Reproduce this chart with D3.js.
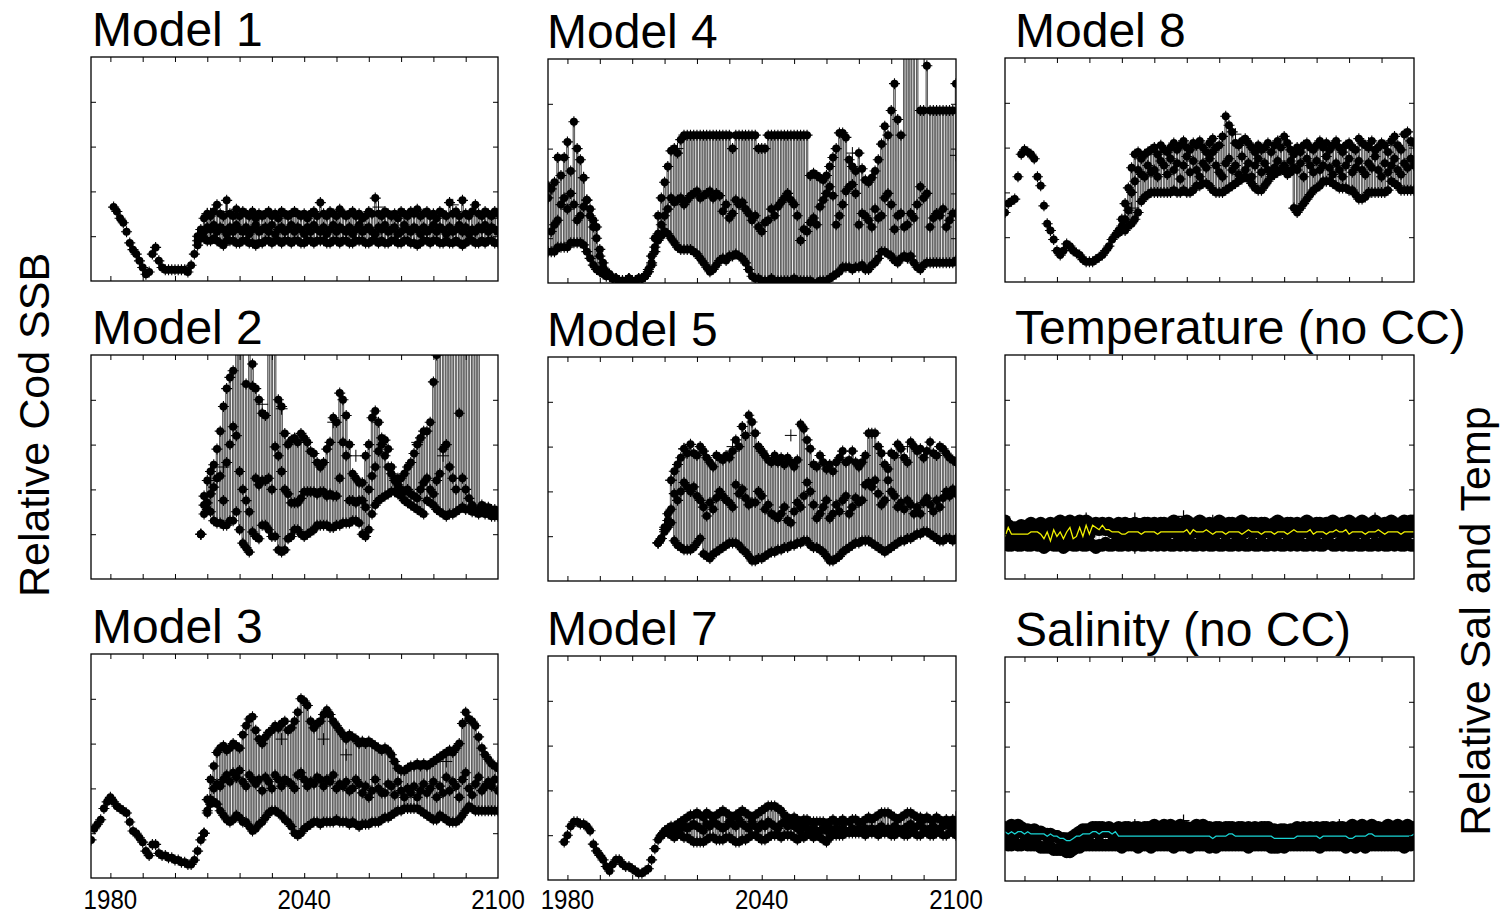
<!DOCTYPE html>
<html>
<head>
<meta charset="utf-8">
<script src="https://cdn.jsdelivr.net/npm/d3@7"></script>
<style>
  body { margin: 0; background: #fff; }
  text { font-family: "Liberation Sans", Arial, Helvetica, sans-serif; fill: #000; }
</style>
</head>
<body>
<script>
// ---- data (relative units, 0-100 panel scale) ----
var xTickYears = [1980, 1990, 2000, 2010, 2020, 2030, 2040, 2050, 2060, 2070, 2080, 2090];
var xLabelYears = [1980, 2040, 2100];
var yTickVals = [20, 40, 60, 80];

// Model 1
var m1Hist = [33,31,28,26,22,17,14,12,9,6,3,4,12,15,9,6,5,5,5,5,5,5,5,4,7,12];
var m1Lo = [16,19,19,18,18,19,18,17,16,18, 18,18,17,17,18,18,17,17,16,17, 17,18,18,17,18,18,17,18,18,17,
  18,18,17,17,18,18,17,18,18,18, 17,17,18,18,17,18,18,17,17,18, 18,18,17,17,18,18,17,18,17,17,
  18,18,17,17,18,18,17,17,16,17, 18,18,17,18,18,17,17,18,17,17, 18,17,16,17,18,18,17,17,18,17, 18,18,17,17];
var m1Mid = [18,21,22,24,23,25,22,24,23,21, 24,22,25,23,22,24,21,23,25,22, 23,24,22,25,21,23,24,22,23,25,
  22,24,23,21,24,22,25,23,22,24, 21,23,25,22,24,23,22,24,21,23, 25,22,23,24,22,21,24,23,25,22,
  23,24,21,22,25,23,22,24,23,21, 24,22,23,25,22,24,23,21,24,22, 23,25,22,24,21,23,22,24,23,25, 22,24,23,22];
var m1Hi = [20,23,28,30,29,31,34,30,29,36, 30,29,32,29,31,30,29,31,28,30, 29,30,31,29,30,28,31,30,29,30,
  31,30,29,30,28,30,31,29,35,30, 29,31,30,29,32,30,29,30,31,29, 30,28,29,31,30,37,30,29,31,30,
  29,30,28,31,30,29,31,30,32,29, 30,31,29,30,28,31,30,29,35,30, 31,29,36,30,29,31,34,30,29,31, 30,29,31,30];
var m1Plus = [[2010,30],[2011,30],[2016,31],[2063,33],[2086,34],[2100,28]];

// Model 4
var m4Lo = [14,14,14,16,16,16,16,18,18,18, 18,17,14,11,8,6,5,4,3,3, 2,2,1,1,1,2,1,1,2,2, 3,5,8,14,19,21,23,22,20,18,
  16,15,15,15,15,14,13,11,9,7, 5,6,8,10,11,10,12,12,13,12, 11,9,6,3,2,2,1,1,1,2, 1,1,1,1,1,1,2,1,1,1,
  1,1,0,0,1,1,1,2,3,4, 5,7,7,7,6,7,7,8,6,6, 8,9,11,14,14,13,12,10,9,11, 12,11,12,9,7,6,8,9,9,9, 9,9,9,9,9,9,10];
var m4Mid = [38,23,26,28,35,38,33,40,35,28, 30,34,37,30,25,20,12,7,4,3, 2,2,1,1,1,2,1,1,2,2, 3,5,9,16,22,26,30,33,38,36,
  37,38,35,37,39,40,41,38,39,40, 41,38,40,39,32,35,29,31,37,35, 36,33,31,28,30,25,23,27,28,33, 30,34,36,38,40,37,35,30,19,24,
  23,27,29,26,34,37,40,43,39,26, 30,35,41,43,44,40,26,31,30,28, 25,33,29,30,38,40,35,24,30,31, 25,26,31,29,35,43,38,40,25,29, 31,30,33,25,28,31,31];
var m4Hi = [43,42,45,56,48,56,63,50,72,60, 55,47,37,33,28,25,15,9,5,4, 2,2,1,1,1,2,1,1,2,2, 3,6,12,20,30,38,45,52,59,60,
  58,64,66,66,66,66,66,66,66,66, 66,66,66,66,66,66,66,60,66,66, 66,66,66,66,66,60,60,60,66,66, 66,66,66,66,66,66,66,66,66,66,
  66,48,49,48,47,46,48,52,56,60, 67,67,65,55,52,50,58,51,46,45, 47,50,55,62,70,66,77,89,73,66, 140,140,140,140,140,77,77,97,77,77, 77,77,77,77,77,77,89];
var m4Plus = [[1974,43],[1985,47],[2014,60],[2068,58],[2100,57]];

// Model 8
var m8Hist = [31,35,36,37,47,57,59,58,57,55, 47,43,34,26,23,19,14,12,14,17, 16,14,13,12,10,9,9,9,10,11, 12,14,16,19,21];
var m8Lo = [22,23,23,25,26,28,31,36,38,39, 40,40,40,40,40,40,40,41,40,40, 41,40,40,41,43,43,44,44,43,41,
  40,40,40,41,42,43,44,45,46,47, 46,44,42,41,41,43,45,47,48,49, 50,50,50,49,33,31,33,35,37,39,
  41,42,43,45,45,45,44,43,42,42, 42,41,41,39,37,37,38,40,40,40, 40,40,40,41,45,44,43,41,41,41, 41,41];
var m8Mid = [22,25,28,32,40,45,50,48,47,52, 49,50,47,54,52,48,55,50,53,46, 52,56,49,54,50,47,53,51,55,58,
  52,49,47,53,55,50,52,48,56,50, 53,47,52,55,49,53,50,48,51,54, 50,52,48,54,51,50,53,47,55,52,
  49,54,50,52,56,51,48,53,50,47, 52,55,49,51,54,50,48,53,51,56, 50,47,53,49,52,55,50,48,53,51, 55,52];
var m8Hi = [23,28,35,42,51,57,58,55,57,58, 59,60,57,61,59,58,60,62,59,61, 63,60,59,62,61,63,60,58,62,64,
  60,61,65,74,70,67,62,61,63,64, 62,60,58,61,59,60,62,58,61,63, 60,65,62,59,57,60,58,61,62,60,
  59,61,63,60,62,59,61,63,60,58, 61,62,60,59,64,62,61,60,63,59, 60,62,61,58,63,65,61,59,66,67, 63,62];
var m8Plus = [[2013,33],[2022,58],[2045,66],[2086,62],[2100,61]];

// Model 2
var m2Lo = [20,29,31,30,26,25,25,24,24,26, 26,30,22,16,14,12,21,19,18,24, 24,22,19,19,13,12,13,18,19,22,
  22,20,19,20,21,22,24,24,24,24, 23,23,24,24,25,25,25,26,26,25, 20,19,22,29,33,35,36,37,38,39,
  39,38,37,35,34,33,32,31,30,29, 35,34,33,31,30,29,28,29,29,30, 31,32,31,31,30,30,29,30,29,29, 28,28,28];
var m2Mid = [20,33,34,38,41,45,46,35,52,60, 68,64,48,40,35,30,86,45,42,44, 44,45,40,59,55,48,40,38,34,34,
  34,36,39,39,39,39,38,39,39,37, 38,37,37,45,61,55,35,35,34,35, 35,32,40,46,50,57,60,62,58,50,
  44,42,40,39,40,38,37,36,40,43, 45,40,38,44,47,58,60,50,45,40, 74,45,40,36,33,30,31,31,30,30, 29,29,29];
var m2Hi = [20,37,44,48,51,58,66,77,85,90, 93,120,120,120,87,110,96,85,80,74, 73,120,120,110,80,77,65,60,62,63,
  61,65,63,61,57,56,52,50,52,58, 61,72,70,83,80,73,60,47,45,43, 43,55,60,72,75,70,63,55,50,47,
  45,45,45,47,50,52,56,60,63,66, 66,70,88,100,120,120,120,120,120,120, 120,120,120,120,120,120,120,33,32,32, 31,31,30];
var m2Plus = [[2011,44],[2015,50],[2027,78],[2033,76],[2049,70],[2056,55],[2075,61],[2083,55]];

// Model 5
var m5Lo = [17,19,22,24,26,18,16,15,14,14, 14,15,17,19,12,11,10,12,13,14, 15,16,17,17,17,16,14,13,11,9,
  9,10,10,11,12,13,13,14,14,15, 15,16,16,17,17,18,18,16,15,15, 14,13,11,9,9,10,11,13,14,15,
  16,17,17,18,18,18,17,16,15,14, 13,14,15,16,17,18,18,19,19,20, 21,21,22,22,21,20,19,18,18,19, 19,18,19];
var m5Mid = [17,19,23,27,32,39,36,40,44,42, 40,42,38,36,33,29,35,32,37,40, 38,36,35,33,43,39,41,37,34,35,
  35,40,38,32,34,30,29,28,30,33, 27,26,31,35,33,38,44,40,34,28, 30,33,36,28,30,34,31,36,38,30,
  33,37,35,36,43,44,42,45,39,34, 36,45,40,38,33,35,32,36,34,30, 33,30,35,37,34,31,36,33,37,40, 38,41,39];
var m5Hi = [17,19,24,30,45,49,52,55,59,57, 61,57,56,60,58,55,53,51,56,55, 54,56,55,58,63,60,69,65,74,71,
  66,60,58,56,54,53,56,53,55,52, 55,53,51,54,70,68,63,59,52,51, 56,53,50,52,49,53,55,58,53,54,
  58,53,51,53,56,66,66,66,60,57, 52,50,57,56,61,59,55,53,62,60, 58,59,55,58,62,57,56,60,59,57, 55,54,53];
var m5Plus = [[2012,45],[2016,59],[2031,60],[2040,58],[2049,65],[2085,60]];

// Model 3
var m3Hist = [17,22,24,26,31,34,36,34,32,31, 30,29,25,21,20,18,16,12,10,15, 15,11,10,10,9,9,8,8,7,7, 6,6,8,12,17];
var m3Lo = [20,29,33,34,33,30,28,26,25,26, 28,27,25,25,23,21,22,24,25,27, 29,30,30,29,28,26,25,23,20,19,
  20,22,23,24,25,25,24,25,25,25, 25,26,25,25,25,24,25,24,23,24, 24,24,25,25,25,26,27,27,28,29,
  30,30,31,31,31,31,31,30,29,28, 27,26,26,28,27,26,25,25,25,26, 28,30,32,31,30,30,30,30,30,30, 30,30];
var m3Mid = [20,30,35,40,42,41,44,46,43,47, 45,48,43,41,46,44,42,44,39,45, 43,40,46,44,41,44,43,42,40,46,
  47,44,41,43,42,45,44,41,44,43, 46,40,42,41,43,39,40,44,42,38, 41,36,39,44,40,38,38,42,41,37,
  43,39,36,40,38,41,36,39,42,38, 40,43,36,41,38,45,39,43,41,36, 44,47,40,37,42,45,39,41,43,41, 44,39];
var m3Hi = [20,35,44,50,56,58,59,57,58,60, 59,58,64,68,71,72,66,62,60,63, 65,66,68,67,69,70,66,67,70,74,
  80,79,77,70,67,69,70,73,75,73, 70,68,66,64,62,64,63,62,60,61, 60,61,60,59,58,57,58,57,55,52,
  49,48,48,49,50,50,51,50,51,50, 51,52,53,54,55,56,57,56,58,60, 69,74,71,70,68,63,58,55,53,51, 50,49];
var m3Plus = [[2019,45],[2033,62],[2046,62],[2053,55],[2084,52],[2100,50]];

// Model 7
var m7Hist = [17,20,24,26,26,25,25,24,22,16, 13,11,9,6,4,7,9,9,7,6, 6,5,4,3,3,4,5,9,14,18];
var m7Lo = [20,21,21,20,19,20,20,19,19,18, 17,17,17,17,18,19,19,18,18,18, 19,19,18,17,17,18,18,19,20,20,
  19,18,18,19,20,20,20,19,20,20, 20,19,18,19,19,20,20,19,20,19, 18,17,19,20,20,20,20,21,21,21,
  21,21,21,20,21,21,21,20,21,21, 21,20,20,21,21,20,20,21,21,20, 20,21,21,20,20,21,21,20,20,21, 21,20];
var m7Mid = [20,21,22,22,23,22,23,24,23,24, 25,24,23,22,25,24,26,25,24,23, 24,26,25,24,27,25,24,23,26,24,
  23,25,24,26,25,24,23,25,26,24, 25,24,23,22,24,23,22,23,22,22, 23,22,23,22,23,22,23,22,22,23,
  22,23,22,23,22,23,22,23,24,22, 23,22,24,23,22,23,24,25,23,24, 25,23,22,23,24,22,23,24,25,24, 23,22];
var m7Hi = [20,22,23,24,24,25,26,27,28,29, 29,30,29,28,30,29,28,29,30,31, 30,29,28,29,30,31,30,29,28,29,
  30,31,32,33,33,33,32,31,29,28, 27,28,27,26,27,27,26,26,26,26, 26,25,26,27,26,26,27,26,26,27,
  27,26,26,27,28,27,28,29,30,30, 30,29,28,27,28,29,30,30,29,28, 28,27,28,27,27,28,27,26,27,26, 27,26];
var m7Plus = [[2100,28]];

// Temperature (no CC), 1974-2100
var tempLine = [19,23,20,20,20,20,20,20,21,21, 21,20,18,21,17,22,19,21,18,21, 23,18,19,23,19,24,20,24,23,22,
  24,22,22,21,21,21,20,20,21,21, 21,21,20,21,21,21,21,20,21,21, 21,21,21,21,21,21,22,20,22,21,
  21,21,22,21,20,21,21,21,20,21, 21,21,21,20,21,22,21,21,21,20, 21,21,21,20,21,21,21,20,21,22,
  21,21,21,21,22,20,21,21,21,20, 21,21,22,21,21,22,20,21,21,21, 21,20,21,21,21,22,21,20,21,21, 21,21,20,21,21,21,21];
var tempHi = [26,24,23,23,23,24,23,24,25,23, 24,25,24,23,25,24,25,26,24,25, 26,24,25,26,24,26,25,24,25,24,
  25,24,25,24,24,25,24,25,24,24, 25,24,24,25,25,24,25,24,25,25, 24,25,26,25,24,25,26,25,24,25,
  26,25,24,25,24,25,26,25,24,25, 25,24,25,26,25,24,25,25,24,25, 25,24,24,25,26,25,24,25,25,24,
  25,24,25,26,25,24,25,25,24,25, 25,26,25,24,25,24,26,25,24,25, 26,25,24,25,26,25,24,25,25,26, 25,24,25,26,25,26,26];
var tempLo = [16,15,15,16,15,15,16,15,15,16, 15,15,14,15,16,15,15,16,14,15, 16,15,15,16,15,15,16,15,14,15,
  15,16,15,15,16,15,15,16,15,16, 15,16,15,15,16,15,16,15,16,15, 16,15,15,16,15,16,15,16,15,15,
  16,15,16,15,15,16,15,15,16,15, 15,16,15,16,15,15,16,15,15,16, 15,15,16,15,16,15,15,16,15,16,
  15,16,15,15,16,15,16,15,15,16, 16,15,15,16,15,16,15,15,16,15, 15,16,15,15,16,15,16,15,15,16, 15,16,15,15,16,15,15];
var tempPlus = [[1999,27],[2014,27],[2014,14],[2029,28],[2038,26],[2088,27],[2100,25]];

// Salinity (no CC), 1974-2100
var salLine = [22,21,22,21,22,22,21,22,21,21, 21,21,21,20,21,20,20,19,19,18, 18,19,20,20,21,21,21,22,22,21,
  22,22,22,21,22,20,20,20,20,20, 20,20,20,20,20,20,20,20,20,20, 20,20,20,20,20,20,20,20,20,20,
  20,20,20,20,19,20,20,20,20,21, 21,20,20,20,20,20,20,20,20,20, 20,20,20,19,19,19,19,19,19,19,
  20,20,20,20,20,20,20,19,20,20, 20,20,20,20,20,20,19,19,20,20, 20,20,21,21,20,20,20,20,20,20, 20,20,20,20,20,20,21];
var salHi = [24,23,25,24,25,24,23,23,22,23, 22,22,21,21,20,20,20,19,19,19, 19,20,21,22,23,23,23,24,24,24,
  24,23,24,23,23,24,23,24,24,23, 24,24,23,24,24,24,25,24,24,25, 24,25,24,24,25,24,24,23,24,25,
  24,25,24,24,23,24,24,23,24,24, 24,23,24,24,23,24,23,24,23,24, 24,24,23,23,22,23,23,22,23,23,
  24,23,24,23,24,23,24,23,24,24, 23,24,23,24,24,23,24,25,24,24, 25,24,24,25,24,24,23,24,25,24, 24,25,24,24,25,24,24];
var salLo = [17,16,16,17,16,16,17,16,16,16, 16,15,15,15,15,14,14,14,14,13, 13,14,15,15,16,16,16,16,16,16,
  16,16,16,16,16,16,15,16,16,16, 16,15,16,16,16,15,16,16,16,16, 16,16,15,16,16,16,16,15,16,16,
  16,16,16,15,16,15,16,16,16,16, 16,16,16,16,16,15,16,16,16,16, 16,16,15,15,15,16,15,16,16,16,
  16,16,16,16,16,16,16,15,16,16, 16,16,16,16,16,15,16,16,15,16, 16,15,16,16,16,16,16,16,16,16, 16,16,16,15,16,16,17];
var salPlus = [[2014,25],[2029,27],[2077,25],[2084,25]];

// ---- layout ----
var W = 1507, H = 914;
var colX = [[91, 498], [548, 956], [1005, 1414]];
var rowTop = [[57, 355, 654], [59, 357, 656], [58, 355, 657]];
var panelH = 224;
var titleX = [92, 547, 1015];
var xDomain = [1974, 2100];
var yDomain = [0, 100];

var panels = [
  {id: "m1", title: "Model 1", col: 0, row: 0, histStart: 1981, hist: m1Hist, projStart: 2007, lo: m1Lo, mid: m1Mid, hi: m1Hi, plus: m1Plus},
  {id: "m2", title: "Model 2", col: 0, row: 1, histStart: 2008, hist: [], projStart: 2008, lo: m2Lo, mid: m2Mid, hi: m2Hi, plus: m2Plus},
  {id: "m3", title: "Model 3", col: 0, row: 2, histStart: 1974, hist: m3Hist, projStart: 2009, lo: m3Lo, mid: m3Mid, hi: m3Hi, plus: m3Plus},
  {id: "m4", title: "Model 4", col: 1, row: 0, histStart: 1974, hist: [], projStart: 1974, lo: m4Lo, mid: m4Mid, hi: m4Hi, plus: m4Plus},
  {id: "m5", title: "Model 5", col: 1, row: 1, histStart: 2008, hist: [], projStart: 2008, lo: m5Lo, mid: m5Mid, hi: m5Hi, plus: m5Plus},
  {id: "m7", title: "Model 7", col: 1, row: 2, histStart: 1979, hist: m7Hist, projStart: 2009, lo: m7Lo, mid: m7Mid, hi: m7Hi, plus: m7Plus},
  {id: "m8", title: "Model 8", col: 2, row: 0, histStart: 1974, hist: m8Hist, projStart: 2009, lo: m8Lo, mid: m8Mid, hi: m8Hi, plus: m8Plus},
  {id: "tp", title: "Temperature (no CC)", col: 2, row: 1, env: true, start: 1974, line: tempLine, lo: tempLo, hi: tempHi, plus: tempPlus, color: "#f2f200"},
  {id: "sl", title: "Salinity (no CC)", col: 2, row: 2, env: true, start: 1974, line: salLine, lo: salLo, hi: salHi, plus: salPlus, color: "#19d3d3"}
];

var svg = d3.select("body").append("svg")
    .attr("width", W)
    .attr("height", H);

var defs = svg.append("defs");
var crossPath = "M-5.5,0H5.5M0,-5.5V5.5";
var plusPath = "M-6,0H6M0,-6V6";

function drawPanel(p) {
    var x0 = colX[p.col][0], x1 = colX[p.col][1];
    var y0 = rowTop[p.col][p.row], y1 = y0 + panelH;
    var x = d3.scaleLinear().domain(xDomain).range([x0, x1]);
    var y = d3.scaleLinear().domain(yDomain).range([y1, y0]);

    defs.append("clipPath").attr("id", "clip-" + p.id)
        .append("rect").attr("x", x0).attr("y", y0).attr("width", x1 - x0).attr("height", y1 - y0);

    var g = svg.append("g");
    var plot = g.append("g").attr("clip-path", "url(#clip-" + p.id + ")");

    if (p.env) {
        // environmental driver: two scenario rows plus the base line
        var rows = p.line.map(function(v, i) {
            return {yr: p.start + i, line: v, lo: p.lo[i], hi: p.hi[i]};
        });
        plot.selectAll("line.bar").data(rows).join("line")
            .attr("x1", function(d) { return x(d.yr); })
            .attr("x2", function(d) { return x(d.yr); })
            .attr("y1", function(d) { return y(d.lo); })
            .attr("y2", function(d) { return y(d.hi); })
            .attr("stroke", "#bbb").attr("stroke-width", 1);
        var pts = [];
        rows.forEach(function(d) {
            pts.push({yr: d.yr, v: d.hi});
            pts.push({yr: d.yr, v: d.line});
            pts.push({yr: d.yr, v: d.lo});
        });
        plot.selectAll("circle.dot").data(pts).join("circle")
            .attr("cx", function(d) { return x(d.yr); })
            .attr("cy", function(d) { return y(d.v); })
            .attr("r", 6.3)
            .attr("fill", "#000");
        plot.selectAll("path.plus").data(p.plus).join("path")
            .attr("d", plusPath)
            .attr("transform", function(d) { return "translate(" + x(d[0]) + "," + y(d[1]) + ")"; })
            .attr("stroke", "#000").attr("stroke-width", 1.2).attr("fill", "none");
        var ln = d3.line()
            .x(function(d) { return x(d.yr); })
            .y(function(d) { return y(d.line); });
        plot.append("path").datum(rows)
            .attr("d", ln)
            .attr("fill", "none")
            .attr("stroke", p.color)
            .attr("stroke-width", 1.3);
    } else {
        var hist = p.hist.map(function(v, i) { return {yr: p.histStart + i, v: v}; });
        var proj = p.lo.map(function(v, i) {
            return {yr: p.projStart + i, lo: v, mid: p.mid[i], hi: p.hi[i]};
        });
        // boxes
        plot.selectAll("rect.bar").data(proj.filter(function(d) { return d.hi > d.lo; })).join("rect")
            .attr("x", function(d) { return x(d.yr) - 0.9; })
            .attr("width", 1.8)
            .attr("y", function(d) { return y(d.hi); })
            .attr("height", function(d) { return y(d.lo) - y(d.hi); })
            .attr("fill", "#a8a8a8")
            .attr("stroke", "#000")
            .attr("stroke-width", 0.5);
        var pts = hist.slice();
        proj.forEach(function(d) {
            pts.push({yr: d.yr, v: d.lo});
            pts.push({yr: d.yr, v: d.mid});
            pts.push({yr: d.yr, v: d.hi});
        });
        plot.selectAll("path.cross").data(pts).join("path")
            .attr("d", crossPath)
            .attr("transform", function(d) { return "translate(" + x(d.yr) + "," + y(d.v) + ")"; })
            .attr("stroke", "#000").attr("stroke-width", 1.1).attr("fill", "none");
        plot.selectAll("circle.dot").data(pts).join("circle")
            .attr("cx", function(d) { return x(d.yr); })
            .attr("cy", function(d) { return y(d.v); })
            .attr("r", 4)
            .attr("fill", "#000");
        plot.selectAll("path.plus").data(p.plus).join("path")
            .attr("d", plusPath)
            .attr("transform", function(d) { return "translate(" + x(d[0]) + "," + y(d[1]) + ")"; })
            .attr("stroke", "#000").attr("stroke-width", 1).attr("fill", "none");
    }

    // inward ticks on all four sides
    var tk = 5;
    g.append("g").attr("transform", "translate(0," + y1 + ")")
        .call(d3.axisBottom(x).tickValues(xTickYears).tickSize(-tk).tickSizeOuter(0).tickFormat(""));
    g.append("g").attr("transform", "translate(0," + y0 + ")")
        .call(d3.axisTop(x).tickValues(xTickYears).tickSize(-tk).tickSizeOuter(0).tickFormat(""));
    g.append("g").attr("transform", "translate(" + x0 + ",0)")
        .call(d3.axisLeft(y).tickValues(yTickVals).tickSize(-tk).tickSizeOuter(0).tickFormat(""));
    g.append("g").attr("transform", "translate(" + x1 + ",0)")
        .call(d3.axisRight(y).tickValues(yTickVals).tickSize(-tk).tickSizeOuter(0).tickFormat(""));
    g.selectAll(".domain").remove();
    g.selectAll(".tick line").attr("stroke", "#000").attr("stroke-width", 1);

    g.append("rect")
        .attr("x", x0).attr("y", y0)
        .attr("width", x1 - x0).attr("height", y1 - y0)
        .attr("fill", "none").attr("stroke", "#000").attr("stroke-width", 1.3);

    g.append("text")
        .attr("x", titleX[p.col]).attr("y", y0 - 11)
        .attr("font-size", 48)
        .text(p.title);

    if (p.row === 2 && p.col < 2) {
        g.selectAll("text.xl").data(xLabelYears).join("text")
            .attr("transform", function(d) { return "translate(" + x(d) + ",909) scale(0.86,1)"; })
            .attr("text-anchor", "middle")
            .attr("font-size", 28)
            .text(function(d) { return d; });
    }
}

panels.forEach(drawPanel);

svg.append("text")
    .attr("transform", "translate(49,425) rotate(-90)")
    .attr("text-anchor", "middle")
    .attr("font-size", 43)
    .text("Relative Cod SSB");

svg.append("text")
    .attr("transform", "translate(1490,621) rotate(-90)")
    .attr("text-anchor", "middle")
    .attr("font-size", 43)
    .text("Relative Sal and Temp");
</script>
</body>
</html>
